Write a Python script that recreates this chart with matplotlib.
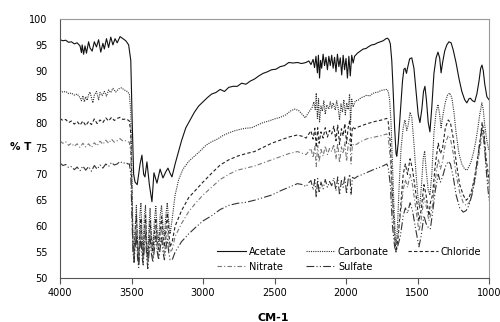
import matplotlib
matplotlib.use('Agg')
import matplotlib.pyplot as plt

# Wellenzahlen (cm-1) und Transmission (%T)
acetate_wn = [4000, 3980, 3960, 3940, 3920, 3900, 3880, 3860, 3850, 3845, 3835, 3825, 3815, 3800, 3790,
              3775, 3760, 3745, 3730, 3715, 3700, 3690, 3675, 3660, 3645, 3630, 3615, 3600, 3580, 3560,
              3540, 3520, 3505, 3495, 3485, 3475, 3460, 3440, 3427, 3415, 3406, 3392, 3375, 3357, 3343,
              3322, 3300, 3280, 3260, 3245, 3230, 3217, 3195, 3170, 3150, 3120, 3090, 3060, 3030, 3000,
              2970, 2940, 2910, 2880, 2850, 2820, 2790, 2760, 2730, 2700, 2670, 2640, 2610, 2580, 2550,
              2520, 2490, 2460, 2430, 2400, 2370, 2340, 2310, 2280, 2260, 2245, 2230, 2220, 2210, 2200,
              2193, 2185, 2178, 2170, 2160, 2150, 2140, 2130, 2120, 2110, 2100, 2090, 2080, 2070, 2060,
              2050, 2040, 2030, 2020, 2010, 2000, 1990, 1980, 1970, 1960, 1950, 1940, 1920, 1900, 1880,
              1860, 1840, 1820, 1800, 1780, 1760, 1740, 1720, 1710, 1700, 1690, 1680, 1670, 1660, 1650,
              1645, 1635, 1620, 1605, 1595, 1587, 1577, 1570, 1555, 1540, 1525, 1510, 1495, 1483, 1470,
              1458, 1448, 1438, 1425, 1413, 1400, 1385, 1370, 1357, 1345, 1335, 1325, 1310, 1295, 1280,
              1265, 1250, 1230, 1210, 1190, 1170, 1155, 1140, 1130, 1115, 1100, 1085, 1070, 1058, 1049,
              1040, 1030, 1015, 1000]
acetate_t = [96.0, 95.8, 95.9, 95.5, 95.6, 95.2, 95.4, 94.8, 93.5, 95.0, 93.2, 94.8, 93.4, 95.6, 94.4,
             93.8, 95.6, 94.6, 96.0, 93.6, 95.3, 94.2, 96.2, 94.5, 96.5, 95.0, 96.2, 95.4, 96.6, 96.2,
             95.8, 95.0, 92.0, 80.0, 70.0, 68.5, 68.0, 72.0, 73.7, 70.0, 69.5, 72.4, 68.0, 64.7, 70.3,
             68.3, 71.0, 69.3, 70.5, 71.2, 70.2, 69.5, 72.0, 74.5, 76.5, 79.0, 80.5, 82.0, 83.2, 84.0,
             84.8, 85.5, 85.8, 86.4, 86.0, 86.8, 87.0, 87.0, 87.6, 87.4, 88.0, 88.4, 89.0, 89.5, 89.8,
             90.2, 90.3, 90.8, 91.0, 91.6, 91.5, 91.6, 91.4, 91.6, 91.9, 91.2, 92.2, 90.6, 92.8, 89.6,
             93.0, 88.6, 92.0, 90.5, 93.2, 91.0, 92.6, 90.2, 92.8, 91.0, 93.0, 90.5, 92.6, 89.8, 93.2,
             90.8, 92.5, 89.2, 93.0, 90.2, 92.4, 88.6, 92.8, 89.0, 93.0, 91.5, 92.8, 93.4, 93.8, 94.2,
             94.3, 94.7, 95.0, 95.1, 95.4, 95.6, 95.8, 96.2, 96.3, 96.0, 95.2, 92.0, 86.0, 79.0, 74.0,
             73.5, 76.0, 82.0, 88.0, 90.3, 90.5, 89.5, 90.5, 92.3, 92.5, 90.5, 86.0, 81.5, 80.0, 82.5,
             86.0, 87.0, 84.5, 80.0, 78.2, 83.0, 89.5, 92.5, 93.6, 92.5, 89.6, 91.5, 93.8, 95.0, 95.6,
             95.4, 94.0, 91.5, 88.5, 86.0, 84.4, 83.8, 84.6, 84.7, 84.2, 84.0, 85.5, 88.0, 90.5, 91.1,
             90.0, 87.5, 85.0, 84.4]

carbonate_wn = [4000, 3980, 3960, 3940, 3920, 3900, 3880, 3860, 3850, 3840, 3830, 3820, 3810, 3800, 3790,
                3780, 3770, 3760, 3745, 3730, 3720, 3705, 3690, 3675, 3660, 3645, 3630, 3610, 3590, 3570,
                3550, 3530, 3515, 3505, 3497, 3490, 3482, 3474, 3466, 3458, 3450, 3442, 3434, 3426, 3418,
                3410, 3402, 3394, 3386, 3378, 3370, 3360, 3350, 3340, 3330, 3320, 3310, 3300, 3290, 3280,
                3270, 3260, 3250, 3240, 3230, 3215, 3195, 3170, 3140, 3100, 3060, 3020, 2980, 2940, 2900,
                2860, 2820, 2780, 2740, 2700, 2660, 2620, 2580, 2540, 2500, 2460, 2420, 2390, 2360, 2330,
                2300, 2285, 2270, 2250, 2235, 2225, 2215, 2208, 2200, 2192, 2185, 2175, 2165, 2155, 2145,
                2135, 2120, 2110, 2100, 2090, 2075, 2065, 2055, 2045, 2035, 2025, 2015, 2005, 1995, 1985,
                1975, 1968, 1960, 1950, 1935, 1915, 1895, 1875, 1855, 1835, 1815, 1795, 1775, 1755, 1735,
                1715, 1705, 1695, 1685, 1675, 1665, 1655, 1648, 1640, 1628, 1615, 1600, 1588, 1575, 1565,
                1552, 1540, 1525, 1510, 1495, 1485, 1472, 1460, 1450, 1440, 1425, 1413, 1400, 1385, 1370,
                1357, 1345, 1335, 1322, 1305, 1290, 1275, 1260, 1245, 1230, 1210, 1190, 1170, 1155, 1140,
                1125, 1110, 1095, 1080, 1065, 1050, 1040, 1030, 1015, 1000]
carbonate_t = [86.2, 85.9, 86.0, 85.6, 85.7, 85.3, 85.5, 84.8, 84.2, 85.2, 84.0, 85.0, 84.3, 85.4, 85.9,
               84.8, 83.8, 85.3, 86.0, 84.4, 85.8, 85.2, 86.0, 85.1, 86.3, 85.8, 86.6, 85.9, 86.5, 86.7,
               86.3, 86.0, 85.5, 82.0, 70.0, 58.0, 53.0, 60.0, 64.0, 57.0, 53.0, 62.0, 64.5, 58.0, 55.0,
               62.0, 64.0, 57.0, 54.0, 60.0, 63.5, 58.0, 56.0, 61.0, 63.8, 59.0, 57.0, 62.0, 64.0, 60.0,
               58.0, 62.0, 64.5, 61.0, 58.5, 61.5, 66.0, 69.0, 71.0, 72.5, 73.5, 74.5, 75.6, 76.3, 76.8,
               77.5, 78.0, 78.4, 78.7, 78.9, 79.0, 79.5, 80.0, 80.3, 80.7, 81.0, 81.5, 82.2, 82.6, 82.3,
               81.4, 80.9, 81.6, 82.4, 83.0, 84.0, 82.5, 85.7, 80.8, 84.6, 80.0, 83.2, 82.2, 84.2, 81.6,
               83.4, 82.6, 84.0, 82.8, 83.8, 82.4, 84.2, 82.8, 80.5, 83.6, 82.0, 84.4, 81.5, 83.8, 82.5,
               85.5, 80.0, 84.5, 83.0, 84.2, 84.3, 84.8, 85.0, 85.3, 85.1, 85.6, 85.8, 85.9, 86.2, 86.3,
               86.4, 86.0, 84.5, 80.0, 72.0, 64.0, 58.0, 56.5, 60.0, 68.0, 75.0, 79.0, 80.5, 78.5, 79.5,
               82.0, 81.0, 76.0, 70.0, 65.0, 63.5, 68.0, 73.0, 74.5, 71.0, 67.0, 66.0, 70.0, 78.0, 82.0,
               83.5, 81.5, 79.0, 81.5, 84.0, 85.3, 85.7, 84.8, 82.0, 78.0, 74.0, 72.0, 71.0, 70.8, 71.5,
               72.5, 74.0, 76.0, 78.5, 81.5, 83.8, 82.5, 79.5, 76.5, 74.5]

chloride_wn = [4000, 3980, 3960, 3940, 3920, 3900, 3880, 3860, 3840, 3820, 3800, 3780, 3760, 3740, 3720,
               3700, 3680, 3660, 3640, 3620, 3600, 3580, 3560, 3540, 3525, 3515, 3505, 3497, 3490, 3482,
               3474, 3466, 3458, 3450, 3442, 3434, 3426, 3418, 3410, 3402, 3394, 3386, 3378, 3370, 3360,
               3350, 3340, 3330, 3320, 3310, 3300, 3290, 3280, 3270, 3260, 3250, 3240, 3230, 3215, 3195,
               3150, 3100, 3050, 3000, 2940, 2880, 2820, 2760, 2700, 2640, 2580, 2520, 2460, 2400, 2340,
               2300, 2280, 2260, 2245, 2230, 2218, 2208, 2198, 2188, 2175, 2160, 2145, 2130, 2115, 2100,
               2085, 2070, 2058, 2045, 2032, 2020, 2008, 1996, 1985, 1973, 1965, 1955, 1940, 1920, 1900,
               1850, 1800, 1750, 1715, 1705, 1690, 1675, 1660, 1650, 1635, 1620, 1600, 1585, 1570, 1552,
               1535, 1510, 1490, 1475, 1455, 1440, 1420, 1410, 1395, 1375, 1355, 1340, 1325, 1305, 1285,
               1270, 1250, 1230, 1205, 1180, 1160, 1140, 1120, 1100, 1080, 1060, 1048, 1035, 1020, 1000]
chloride_t = [80.8, 80.4, 80.6, 80.0, 80.3, 79.7, 80.2, 79.5, 80.3, 79.4, 80.2, 79.6, 80.7, 79.8, 80.5,
              80.0, 80.9, 80.3, 81.0, 80.4, 80.8, 81.0, 80.6, 80.7, 80.5, 80.3, 78.0, 66.0, 57.0, 54.0,
              59.0, 62.0, 56.0, 53.0, 58.0, 61.5, 56.0, 54.0, 59.0, 62.0, 56.0, 53.0, 57.0, 61.0, 57.0,
              55.0, 58.5, 61.5, 57.0, 55.5, 59.0, 61.8, 58.0, 56.0, 59.0, 62.5, 59.0, 56.0, 57.0, 60.0,
              63.0, 65.5, 67.0, 68.5, 70.2, 71.8, 72.8, 73.5, 74.0, 74.4, 75.2, 76.0, 76.6, 77.2, 77.6,
              77.3, 77.0, 77.8, 78.4, 76.8, 78.9, 75.2, 79.0, 76.0, 78.2, 77.0, 79.0, 77.2, 78.5, 77.8,
              79.3, 76.5, 79.5, 75.8, 78.8, 77.4, 79.8, 76.0, 79.0, 80.5, 75.5, 79.2, 78.8, 79.1, 79.3,
              79.8, 80.2, 80.5, 80.8, 80.2, 76.0, 66.0, 58.0, 55.0, 58.0, 63.0, 70.0, 72.0, 70.0, 73.0,
              71.0, 66.0, 61.0, 63.0, 68.0, 66.0, 62.0, 64.5, 66.0, 72.0, 76.0, 74.0, 75.0, 79.0, 80.5,
              80.0, 77.0, 72.5, 68.0, 66.0, 65.0, 65.5, 67.0, 69.5, 73.0, 77.0, 80.0, 78.0, 73.0, 69.0]

nitrate_wn = chloride_wn
nitrate_t = [76.4, 76.0, 76.3, 75.6, 76.0, 75.4, 75.9, 75.2, 76.0, 75.3, 75.9, 75.2, 76.1, 75.5, 76.4,
             75.8, 76.6, 76.0, 76.8, 76.2, 76.5, 76.9, 76.4, 76.5, 76.3, 76.2, 74.0, 64.0, 56.0, 53.5,
             57.5, 60.0, 55.0, 52.5, 57.0, 60.0, 55.0, 53.0, 58.0, 60.5, 55.0, 52.5, 56.0, 59.5, 55.5,
             54.0, 57.0, 60.0, 56.0, 54.0, 57.5, 60.0, 56.5, 54.5, 57.5, 60.0, 57.0, 55.0, 55.5, 58.0,
             60.5, 62.8, 64.5, 66.0, 67.5, 69.0, 70.0, 70.8, 71.2, 71.6, 72.2, 72.8, 73.4, 74.0, 74.4,
             74.0, 73.8, 74.5, 75.0, 73.2, 75.4, 71.5, 75.6, 72.4, 74.8, 73.5, 75.5, 73.8, 75.0, 74.4,
             75.8, 73.0, 76.0, 72.2, 75.3, 74.0, 76.2, 72.5, 75.6, 76.8, 72.0, 75.8, 75.6, 75.9, 76.3,
             76.9, 77.2, 77.5, 77.8, 77.2, 73.0, 64.0, 58.0, 56.5, 58.5, 62.0, 67.0, 69.0, 67.5, 70.0,
             68.0, 63.0, 59.0, 61.0, 65.5, 64.0, 61.0, 62.0, 64.0, 69.0, 73.0, 71.0, 72.5, 76.0, 77.5,
             77.0, 74.0, 70.0, 66.5, 64.5, 64.0, 64.5, 66.0, 68.5, 72.0, 75.5, 78.0, 76.0, 71.5, 67.5]

sulfate_wn = chloride_wn
sulfate_t = [72.2, 71.7, 71.9, 71.3, 71.5, 70.9, 71.4, 70.7, 71.6, 70.8, 71.5, 70.6, 71.7, 71.0, 71.8,
             71.2, 72.0, 71.5, 72.3, 71.8, 72.0, 72.5, 72.1, 72.3, 72.0, 72.0, 70.0, 62.0, 55.0, 53.0,
             56.0, 58.5, 54.0, 52.0, 55.5, 58.0, 54.0, 52.5, 56.0, 58.5, 54.0, 51.8, 54.5, 57.5, 54.5,
             53.0, 55.5, 58.0, 55.0, 53.5, 55.5, 58.0, 55.0, 53.5, 55.5, 57.5, 55.0, 53.5, 53.5, 55.0,
             57.0, 58.5, 59.8, 61.0, 62.0, 63.2, 64.0, 64.4, 64.6, 65.0, 65.5, 66.0, 66.8, 67.5, 68.2,
             68.0, 67.6, 68.4, 68.8, 67.0, 69.0, 65.5, 69.2, 66.4, 68.5, 67.2, 69.0, 67.5, 68.6, 67.8,
             69.3, 66.8, 69.5, 66.0, 68.8, 67.5, 69.6, 66.2, 69.0, 70.0, 66.0, 69.4, 69.2, 69.6, 69.8,
             70.4, 71.0, 71.5, 72.0, 71.4, 68.0, 60.0, 56.0, 55.0, 56.5, 58.0, 62.0, 63.5, 62.5, 64.5,
             63.0, 59.0, 56.0, 58.0, 62.0, 60.5, 59.5, 59.5, 62.5, 67.0, 70.0, 68.5, 69.5, 71.5, 72.5,
             72.0, 69.5, 66.0, 63.5, 62.7, 63.0, 64.0, 66.0, 69.0, 73.0, 77.0, 79.0, 77.0, 71.0, 65.0]

x_ticks = [4000, 3500, 3000, 2500, 2000, 1500, 1000]
y_ticks = [50, 55, 60, 65, 70, 75, 80, 85, 90, 95, 100]

plt.rcParams['font.family'] = ['DejaVu Sans']
fig = plt.figure(figsize=(5, 3.22), dpi=100)
ax = fig.add_axes([0.12, 0.137, 0.858, 0.804])

ax.plot(acetate_wn, acetate_t, color='#111111', lw=0.8, ls='-', label='Acetate')
ax.plot(carbonate_wn, carbonate_t, color='#333333', lw=0.8, ls=(0, (1, 1)), label='Carbonate')
ax.plot(chloride_wn, chloride_t, color='#222222', lw=0.8, ls=(0, (3, 2)), label='Chloride')
ax.plot(nitrate_wn, nitrate_t, color='#777777', lw=0.8, ls=(0, (4, 2, 1, 2)), label='Nitrate')
ax.plot(sulfate_wn, sulfate_t, color='#333333', lw=0.8, ls=(0, (7, 2, 1, 2, 1, 2)), label='Sulfate')

ax.set_xlim(4000, 1000)
ax.set_ylim(50, 100)
ax.set_xticks(x_ticks)
ax.set_yticks(y_ticks)
ax.tick_params(axis='x', direction='out', length=4, width=0.8, color='#555555', labelsize=7, pad=3)
ax.tick_params(axis='y', length=0, labelsize=7, pad=9)
for s in ['top', 'right']:
    ax.spines[s].set_color('#999999')
for s in ['left', 'bottom']:
    ax.spines[s].set_color('#555555')
for s in ax.spines.values():
    s.set_linewidth(0.8)

# Legende zeilenweise: Acetate, Carbonate, Chloride / Nitrate, Sulfate
h, l = ax.get_legend_handles_labels()
order = [0, 3, 1, 4, 2]
ax.legend([h[i] for i in order], [l[i] for i in order], ncol=3, frameon=False, fontsize=7,
          loc='lower left', bbox_to_anchor=(0.345, -0.01), handlelength=3.0, columnspacing=2.0,
          handletextpad=0.3, labelspacing=0.5)

fig.text(0.042, 0.543, '% T', fontsize=7.5, fontweight='bold', ha='center', va='center')
fig.text(0.546, 0.013, 'CM-1', fontsize=8, fontweight='bold', ha='center', va='center')

fig.savefig('out.png', dpi=100)
